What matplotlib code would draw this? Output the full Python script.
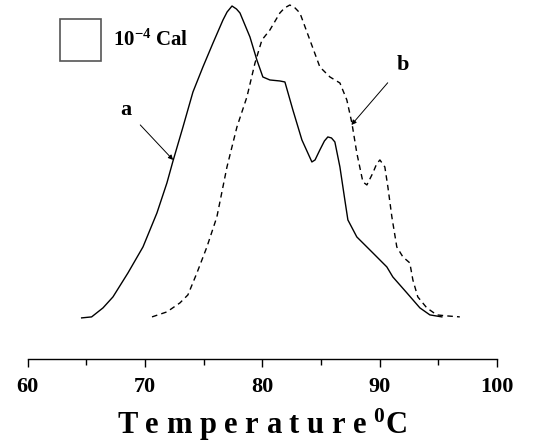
import matplotlib
matplotlib.use("Agg")
import matplotlib.pyplot as plt
from matplotlib.patches import Rectangle

# curve a (solid): temperature (C) and heat flow above baseline (arb. units)
temp_a = [64.60, 65.45, 66.42, 67.27, 68.55, 69.83, 71.02, 71.87, 72.39, 73.24,
          74.09, 74.94, 75.80, 76.65, 77.00, 77.42, 77.80, 78.10, 78.95, 79.54,
          80.05, 80.65, 81.50, 81.93, 82.61, 83.38, 84.23, 84.50, 84.91, 85.30,
          85.59, 85.90, 86.19, 86.62, 87.04, 87.30, 88.06, 89.43, 90.62, 91.13,
          92.33, 93.44, 94.29, 95.31]
heat_a = [0, 1, 10, 21, 45, 71, 105, 135, 157, 191,
          226, 251, 275, 298, 306, 312, 309, 305, 281, 258,
          241, 238, 237, 236, 208, 178, 156, 158, 168, 177,
          181, 180, 176, 151, 118, 98, 81, 65, 51, 41,
          25, 10, 3, 1]

# curve b (dashed)
temp_b = [70.60, 71.87, 72.98, 73.66, 74.43, 75.28, 76.13, 76.99, 77.84, 78.69,
          79.38, 79.97, 80.65, 81.50, 81.90, 82.35, 82.80, 83.21, 84.06, 84.91,
          85.77, 86.62, 87.21, 87.64, 88.06, 88.58, 88.92, 89.43, 89.75, 90.03,
          90.45, 90.71, 91.05, 91.47, 91.99, 92.58, 92.84, 93.26, 94.03, 94.88,
          95.73, 96.84]
heat_b = [1, 6, 15, 23, 45, 71, 101, 151, 191, 221,
          255, 278, 288, 305, 310, 313, 310, 305, 278, 251,
          241, 235, 218, 195, 165, 136, 133, 145, 154, 158,
          151, 131, 101, 71, 61, 55, 38, 21, 10, 3,
          2, 1]

xticks = [60, 70, 80, 90, 100]

plt.rcParams['font.family'] = ['Liberation Serif', 'DejaVu Serif']
plt.rcParams['font.weight'] = 'bold'
plt.rcParams['mathtext.fontset'] = 'custom'
plt.rcParams['mathtext.rm'] = 'Liberation Serif:bold'
plt.rcParams['mathtext.bf'] = 'Liberation Serif:bold'
plt.rcParams['mathtext.it'] = 'Liberation Serif:bold'
plt.rcParams['mathtext.default'] = 'rm'

fig = plt.figure(figsize=(5.43, 4.46), dpi=100)
ax = fig.add_axes([0.051, 0.196, 0.864, 0.804])

ax.plot(temp_a, heat_a, color="black", lw=1.0)
ax.plot(temp_b, heat_b, color="black", lw=1.0, ls=(0, (4, 3)))

ax.set_xlim(60, 100)
ax.set_ylim(-40.7, 318)

for s in ["top", "left", "right"]:
    ax.spines[s].set_visible(False)
ax.spines["bottom"].set_linewidth(1.0)
ax.set_yticks([])
ax.set_xticks(xticks)
ax.set_xticks([65, 75, 85, 95], minor=True)
ax.tick_params(axis="x", which="major", direction="out", length=6, width=1.0,
               labelsize=16, pad=7)
ax.tick_params(axis="x", which="minor", direction="out", length=4.5, width=1.0)
for lab in ax.get_xticklabels():
    lab.set_fontweight("bold")

ax.set_xlabel("T e m p e r a t u r e $^{0}$C", fontsize=22,
              fontweight="bold", labelpad=7)

# scale box
ax.add_patch(Rectangle((0.069, 0.830), 0.087, 0.117, transform=ax.transAxes,
                       fill=False, edgecolor="#555555", lw=1.2))
ax.text(0.182, 0.888, "10$^{-4}$ Cal", transform=ax.transAxes,
        fontsize=15, fontweight="bold", va="center", ha="left")

ax.annotate("a", xy=(72.4, 158), xytext=(68.4, 208), fontsize=16,
            fontweight="bold", ha="center", va="center",
            arrowprops=dict(arrowstyle="-|>", color="black", lw=0.7,
                            mutation_scale=7, shrinkA=6, shrinkB=0))
ax.annotate("b", xy=(87.6, 193), xytext=(92.0, 253), fontsize=16,
            fontweight="bold", ha="center", va="center",
            arrowprops=dict(arrowstyle="-|>", color="black", lw=0.7,
                            mutation_scale=7, shrinkA=7, shrinkB=0))

fig.savefig("out.png", dpi=100)
